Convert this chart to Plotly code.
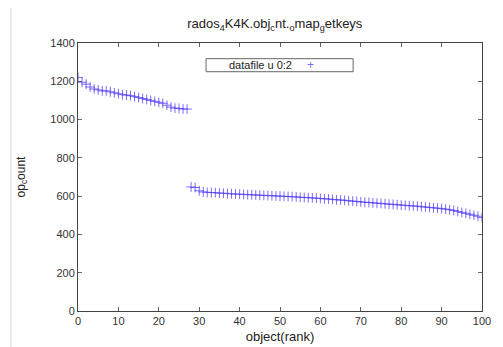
import plotly.graph_objects as go

ranks = list(range(0, 101))
op_count = [
    1220, 1195, 1185, 1170, 1160, 1155, 1150, 1150, 1145, 1140,
    1135, 1130, 1128, 1125, 1120, 1115, 1110, 1105, 1100, 1095,
    1090, 1085, 1075, 1065, 1060, 1058, 1055, 1055,
    648, 645, 628, 622, 620, 619, 618, 616, 615, 614, 612, 611,
    610, 609, 608, 607, 606, 605, 604, 603, 602, 601,
    600, 599, 598, 597, 596, 594, 593, 592, 591, 589,
    588, 586, 585, 583, 581, 580, 578, 576, 574, 572,
    570, 568, 567, 565, 563, 562, 560, 558, 557, 555,
    553, 552, 550, 549, 547, 545, 543, 541, 539, 537,
    535, 532, 529, 525, 520, 515, 510, 505, 500, 495, 488,
]
x_ticks = [0, 10, 20, 30, 40, 50, 60, 70, 80, 90, 100]
y_ticks = [0, 200, 400, 600, 800, 1000, 1200, 1400]
series_name = "datafile u 0:2"

blue = "rgba(80,60,250,0.75)"
font = "Liberation Sans, Arial, sans-serif"

fig = go.Figure()
fig.add_trace(go.Scatter(
    x=ranks, y=op_count, mode="markers", name=series_name,
    marker=dict(symbol="cross-thin", size=7, line=dict(color=blue, width=1), color=blue),
    showlegend=False,
))

axis_common = dict(
    showgrid=False, zeroline=False, showline=True, linecolor="#444", linewidth=1,
    mirror="allticks", ticks="inside", ticklen=4, tickcolor="#666",
    tickfont=dict(family=font, size=11, color="#333"), automargin=False,
)
fig.update_xaxes(range=[0, 100], tickvals=x_ticks, **axis_common,
                 title=dict(text="object(rank)", font=dict(family=font, size=13, color="#222"), standoff=5))
fig.update_yaxes(range=[0, 1400], tickvals=y_ticks, **axis_common,
                 title=dict(text="op<sub>c</sub>ount", font=dict(family=font, size=12, color="#222"), standoff=22))

# legend box (gnuplot style: text then sample)
fig.add_shape(type="rect", xref="x", yref="y", x0=31.7, x1=68.1, y0=1250, y1=1318,
              line=dict(color="#666", width=1), fillcolor="white")
fig.add_annotation(xref="x", yref="y", x=53.5, y=1284, text=series_name, showarrow=False,
                   xanchor="right", font=dict(family=font, size=11, color="#222"))
fig.add_annotation(xref="x", yref="y", x=57.5, y=1284, text="+", showarrow=False,
                   font=dict(family=font, size=12, color=blue))

# photo frame
fig.add_shape(type="rect", xref="paper", yref="paper", x0=-0.166, x1=1.2, y0=-0.5, y1=1.134,
              line=dict(color="#d8d8d8", width=1), layer="below")

fig.update_layout(
    width=495, height=339,
    margin=dict(l=70, r=21, t=35, b=36),
    paper_bgcolor="white", plot_bgcolor="white",
    title=dict(text="rados<sub>4</sub>K4K.obj<sub>c</sub>nt.<sub>o</sub>map<sub>g</sub>etkeys",
               x=0.539, xanchor="center", y=0.955, yanchor="middle",
               font=dict(family=font, size=13, color="#222")),
)

fig.write_html("out.html")
